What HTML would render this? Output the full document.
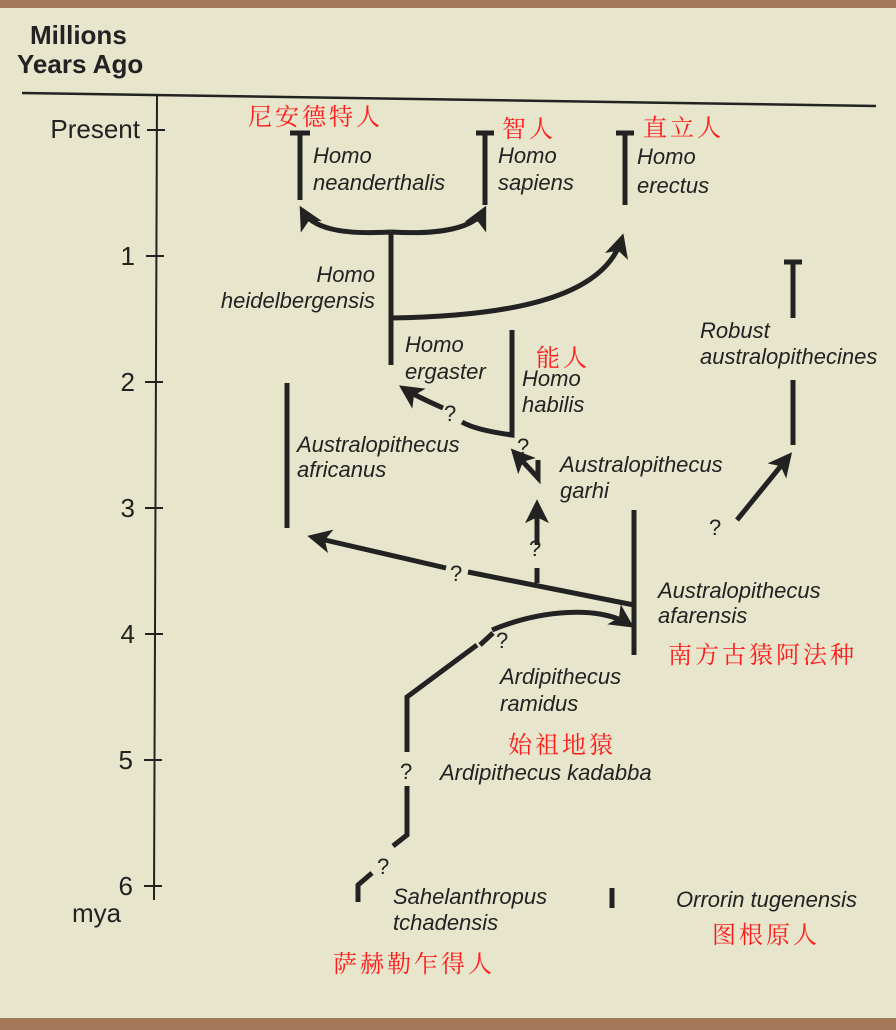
<!DOCTYPE html>
<html><head><meta charset="utf-8"><style>
html,body{margin:0;padding:0;background:#e7e5cc;}
svg{display:block;}
.i{font-family:"Liberation Sans",sans-serif;font-style:italic;font-size:22px;fill:#222;}
.a{font-family:"Liberation Sans",sans-serif;font-size:26px;fill:#222;}
.r{font-family:"Liberation Serif","Noto Serif CJK SC",serif;font-size:24px;fill:#ff1a1a;letter-spacing:3px;}
.q{font-family:"Liberation Sans",sans-serif;font-size:22px;fill:#222;}
</style></head><body>
<svg width="896" height="1030" viewBox="0 0 896 1030" xmlns="http://www.w3.org/2000/svg">
<defs><marker id="ar" viewBox="0 0 10 10" refX="8" refY="5" markerWidth="4.8" markerHeight="4.8" orient="auto-start-reverse"><path d="M0,0 L10,5 L0,10 L2.5,5 z" fill="#222"/></marker></defs>
<rect width="896" height="1030" fill="#e7e5cc"/>
<rect x="0" y="0" width="896" height="8" fill="#a5785a"/>
<rect x="0" y="1018" width="896" height="12" fill="#a5785a"/>
<text x="30" y="44" class="a" font-weight="bold" font-size="26">Millions</text>
<text x="17" y="73" class="a" font-weight="bold" font-size="26">Years Ago</text>
<g stroke="#222" fill="none">
<line x1="22" y1="93" x2="876" y2="106" stroke-width="2.5"/>
<line x1="157" y1="96" x2="154" y2="900" stroke-width="2"/>
<g stroke-width="2"><line x1="147" y1="130" x2="165" y2="130"/><line x1="146" y1="256" x2="164" y2="256"/><line x1="145" y1="382" x2="163" y2="382"/><line x1="145" y1="508" x2="163" y2="508"/><line x1="145" y1="634" x2="163" y2="634"/><line x1="144" y1="760" x2="162" y2="760"/><line x1="144" y1="886" x2="162" y2="886"/></g>
</g>
<g class="a" text-anchor="end"><text x="140" y="138">Present</text><text x="135" y="265">1</text><text x="135" y="391">2</text><text x="135" y="517">3</text><text x="135" y="643">4</text><text x="133" y="769">5</text><text x="133" y="895">6</text></g>
<text x="72" y="922" class="a" font-size="24">mya</text>
<g stroke="#222" fill="none" stroke-width="5">
<path d="M290,133 H310 M300,133 V200"/>
<path d="M476,133 H494 M485,133 V205"/>
<path d="M616,133 H634 M625,133 V205"/>
<path d="M391,232 C340,235 312,228 302,210" marker-end="url(#ar)"/>
<path d="M391,232 C440,235 475,228 484,210" marker-end="url(#ar)"/>
<path d="M391,232 V365"/>
<path d="M391,318 C520,316 605,295 622,238" marker-end="url(#ar)"/>
<path d="M512,330 V435 C490,432 472,428 462,422"/>
<path d="M443,408 C425,400 412,394 403,388" marker-end="url(#ar)"/>
<path d="M287,383 V528"/>
<path d="M538,460 V478 L514,452" marker-end="url(#ar)"/>
<path d="M537,583 V568 M537,545 V504" marker-end="url(#ar)"/>
<path d="M634,605 L468,572"/>
<path d="M446,568 L312,537" marker-end="url(#ar)"/>
<path d="M634,510 V655"/>
<path d="M493,633 L480,645"/>
<path d="M492,630 C540,610 600,605 630,625" marker-end="url(#ar)"/>
<path d="M477,645 L407,697 V752"/>
<path d="M407,786 V835 L393,846"/>
<path d="M372,873 L358,885 V902"/>
<path d="M784,262 H802 M793,262 V318"/>
<path d="M793,380 V445"/>
<path d="M737,520 L789,456" marker-end="url(#ar)"/>
<path d="M612,888 V908"/>
</g>
<g class="q"><text x="444" y="421">?</text><text x="517" y="454">?</text><text x="529" y="556">?</text><text x="450" y="581">?</text><text x="496" y="648">?</text><text x="400" y="779">?</text><text x="377" y="874">?</text><text x="709" y="535">?</text></g>
<g class="i">
<text x="313" y="163">Homo</text><text x="313" y="190">neanderthalis</text>
<text x="498" y="163">Homo</text><text x="498" y="190">sapiens</text>
<text x="637" y="164">Homo</text><text x="637" y="193">erectus</text>
<text x="375" y="282" text-anchor="end">Homo</text><text x="375" y="308" text-anchor="end">heidelbergensis</text>
<text x="405" y="352">Homo</text><text x="405" y="379">ergaster</text>
<text x="522" y="386">Homo</text><text x="522" y="412">habilis</text>
<text x="297" y="452">Australopithecus</text><text x="297" y="477">africanus</text>
<text x="560" y="472">Australopithecus</text><text x="560" y="498">garhi</text>
<text x="700" y="338">Robust</text><text x="700" y="364">australopithecines</text>
<text x="658" y="598">Australopithecus</text><text x="658" y="623">afarensis</text>
<text x="500" y="684">Ardipithecus</text><text x="500" y="711">ramidus</text>
<text x="440" y="780">Ardipithecus kadabba</text>
<text x="393" y="904">Sahelanthropus</text><text x="393" y="930">tchadensis</text>
<text x="676" y="907">Orrorin tugenensis</text>
</g>
<g class="r">
<text x="248" y="125">尼安德特人</text>
<text x="502" y="137">智人</text>
<text x="643" y="136">直立人</text>
<text x="536" y="366">能人</text>
<text x="668" y="663">南方古猿阿法种</text>
<text x="508" y="753">始祖地猿</text>
<text x="333" y="972">萨赫勒乍得人</text>
<text x="712" y="943">图根原人</text>
</g>
</svg>
</body></html>
